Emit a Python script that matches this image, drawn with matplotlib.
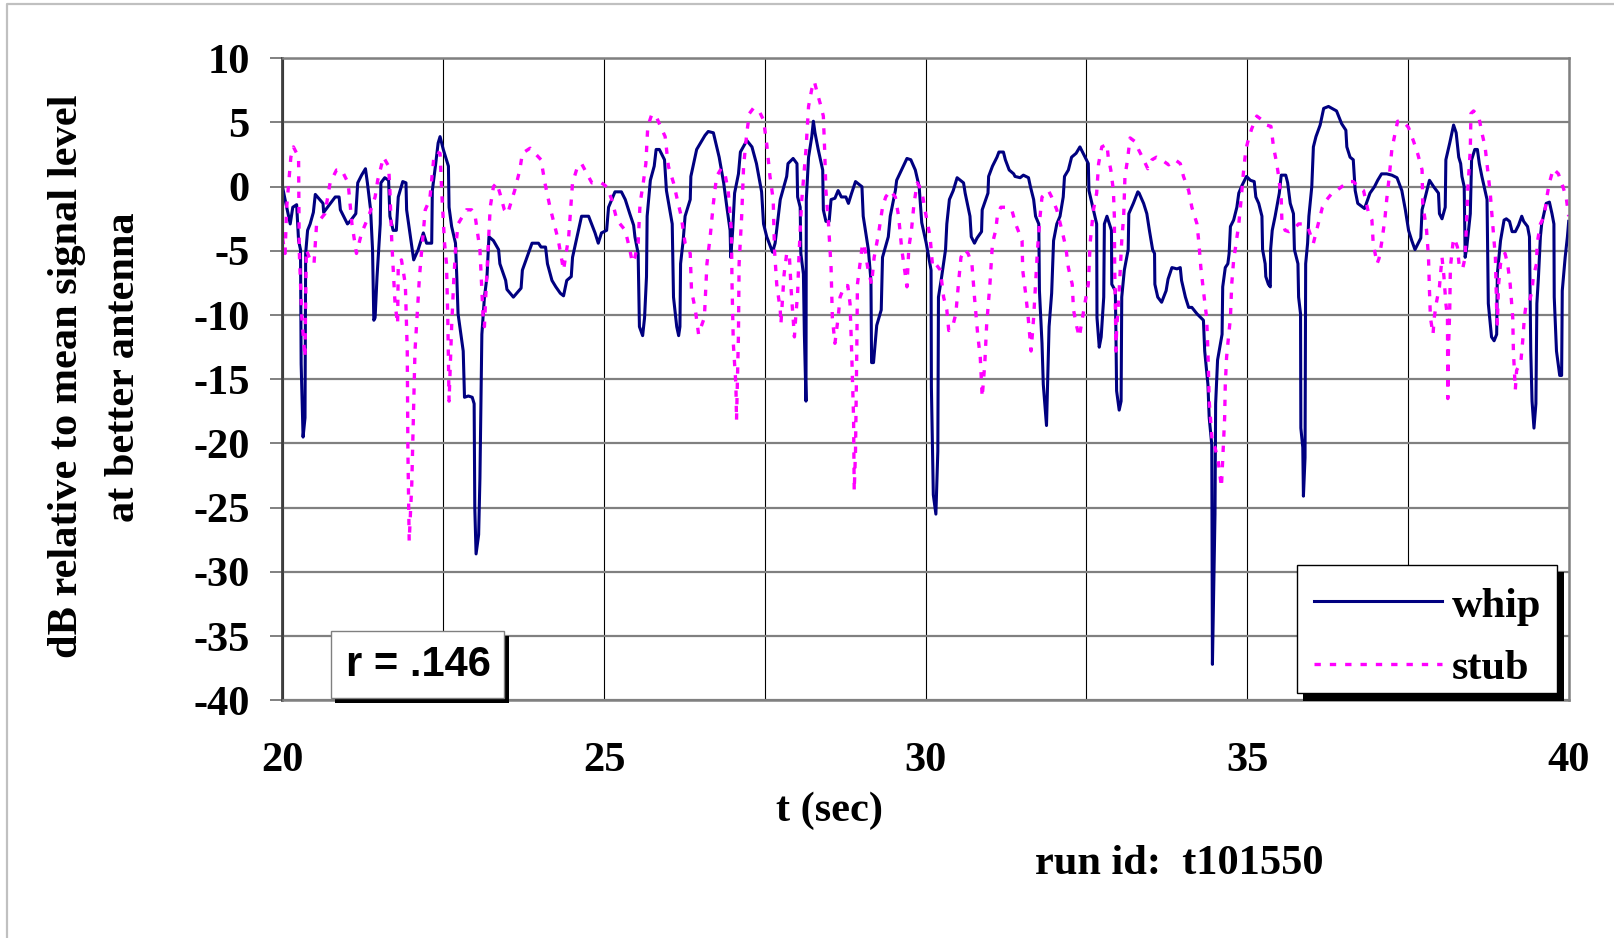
import matplotlib
matplotlib.use("Agg")
import matplotlib.pyplot as plt
from matplotlib.patches import Rectangle
from matplotlib.lines import Line2D

# values (t in s, level in dB)
whip_t = [20.00, 20.04, 20.12, 20.16, 20.22, 20.25, 20.28, 20.29, 20.32, 20.35, 20.36, 20.39, 20.43, 20.48,
          20.51, 20.63, 20.64, 20.82, 20.88, 20.90, 21.01, 21.05, 21.14, 21.17, 21.23, 21.29, 21.32, 21.37,
          21.40, 21.42, 21.44, 21.47, 21.52, 21.53, 21.59, 21.65, 21.67, 21.72, 21.77, 21.80, 21.87, 21.92,
          21.93, 22.04, 22.11, 22.19, 22.24, 22.32, 22.33, 22.38, 22.42, 22.45, 22.50, 22.58, 22.59, 22.63,
          22.69, 22.71, 22.73, 22.81, 22.83, 22.89, 22.95, 22.98, 22.99, 23.01, 23.05, 23.07, 23.10, 23.14,
          23.18, 23.21, 23.28, 23.36, 23.38, 23.47, 23.49, 23.59, 23.71, 23.73, 23.88, 23.98, 24.02, 24.09,
          24.12, 24.19, 24.25, 24.32, 24.37, 24.42, 24.49, 24.51, 24.58, 24.65, 24.76, 24.86, 24.91, 24.96,
          25.04, 25.07, 25.12, 25.17, 25.27, 25.33, 25.40, 25.46, 25.48, 25.53, 25.55, 25.60, 25.63, 25.66,
          25.67, 25.72, 25.78, 25.81, 25.86, 25.94, 25.97, 26.06, 26.08, 26.13, 26.16, 26.18, 26.19, 26.23,
          26.26, 26.34, 26.35, 26.44, 26.57, 26.62, 26.70, 26.79, 26.86, 26.91, 26.96, 26.97, 27.00, 27.03,
          27.09, 27.12, 27.22, 27.30, 27.37, 27.45, 27.48, 27.53, 27.62, 27.66, 27.74, 27.84, 27.86, 27.94,
          28.00, 28.01, 28.05, 28.06, 28.10, 28.115, 28.14, 28.145, 28.18, 28.23, 28.255, 28.28, 28.33, 28.40,
          28.41, 28.45, 28.50, 28.53, 28.59, 28.64, 28.69, 28.76, 28.80, 28.85, 28.91, 29.01, 29.03, 29.11,
          29.15, 29.16, 29.19, 29.24, 29.31, 29.33, 29.42, 29.45, 29.53, 29.55, 29.71, 29.77, 29.84, 29.90,
          29.94, 30.01, 30.085, 30.09, 30.12, 30.16, 30.19, 30.20, 30.25, 30.31, 30.33, 30.37, 30.43, 30.49,
          30.54, 30.59, 30.615, 30.69, 30.71, 30.76, 30.80, 30.87, 30.88, 30.97, 30.98, 31.04, 31.11, 31.14,
          31.21, 31.24, 31.30, 31.37, 31.39, 31.47, 31.52, 31.60, 31.63, 31.68, 31.71, 31.76, 31.77, 31.81,
          31.83, 31.88, 31.90, 31.92, 31.96, 31.99, 32.04, 32.09, 32.14, 32.16, 32.22, 32.27, 32.34, 32.40,
          32.45, 32.53, 32.54, 32.61, 32.66, 32.665, 32.70, 32.73, 32.77, 32.78, 32.82, 32.89, 32.895, 32.95,
          32.96, 32.97, 33.01, 33.04, 33.05, 33.09, 33.15, 33.16, 33.23, 33.30, 33.32, 33.39, 33.44, 33.48,
          33.53, 33.56, 33.565, 33.61, 33.67, 33.74, 33.77, 33.83, 33.91, 33.96, 33.98, 34.04, 34.09, 34.14,
          34.22, 34.32, 34.34, 34.39, 34.41, 34.45, 34.46, 34.50, 34.51, 34.54, 34.61, 34.62, 34.66, 34.70,
          34.72, 34.74, 34.79, 34.84, 34.87, 34.92, 34.99, 35.05, 35.11, 35.135, 35.18, 35.23, 35.24, 35.28,
          35.29, 35.33, 35.36, 35.365, 35.39, 35.435, 35.46, 35.50, 35.53, 35.60, 35.63, 35.67, 35.72, 35.735,
          35.79, 35.80, 35.83, 35.835, 35.865, 35.875, 35.90, 35.91, 35.94, 35.96, 36.005, 36.03, 36.07, 36.135,
          36.19, 36.265, 36.32, 36.39, 36.47, 36.535, 36.55, 36.60, 36.65, 36.68, 36.72, 36.825, 36.91, 36.98,
          37.03, 37.09, 37.17, 37.25, 37.33, 37.405, 37.46, 37.51, 37.56, 37.61, 37.70, 37.72, 37.77, 37.835,
          37.90, 37.975, 37.99, 38.03, 38.08, 38.09, 38.15, 38.21, 38.25, 38.29, 38.32, 38.34, 38.375, 38.39,
          38.415, 38.47, 38.49, 38.54, 38.58, 38.61, 38.65, 38.73, 38.75, 38.80, 38.84, 38.88, 38.89, 38.94,
          38.995, 39.03, 39.08, 39.12, 39.17, 39.22, 39.27, 39.30, 39.36, 39.39, 39.41, 39.43, 39.46, 39.49,
          39.505, 39.53, 39.56, 39.58, 39.65, 39.70, 39.74, 39.77, 39.775, 39.81, 39.86, 39.89, 39.90, 39.945,
          39.98, 40.00]
whip_db = [0.0, -1.0, -2.9, -1.6, -1.4, -4.2, -4.9, -13.8, -19.5, -18.0, -5.2, -3.4, -2.9, -2.0,
           -0.6, -1.3, -2.0, -0.8, -0.8, -1.8, -2.9, -2.7, -2.1, 0.3, 0.9, 1.4, 0.3, -1.8,
           -4.9, -10.4, -10.2, -7.0, -2.9, 0.3, 0.7, 0.5, -2.3, -3.4, -3.4, -0.8, 0.4, 0.3,
           -1.8, -5.7, -4.9, -3.6, -4.4, -4.4, -0.3, 1.7, 3.4, 3.9, 2.9, 1.6, -1.6, -3.1,
           -4.4, -7.0, -9.9, -12.8, -16.4, -16.3, -16.4, -16.9, -25.0, -28.6, -27.1, -22.7, -11.5, -8.6,
           -7.0, -3.9, -4.2, -4.9, -6.0, -7.3, -8.0, -8.6, -7.9, -6.5, -4.4, -4.4, -4.7, -4.7,
           -6.0, -7.3, -7.8, -8.3, -8.5, -7.3, -7.0, -5.5, -3.9, -2.3, -2.3, -3.6, -4.4, -3.6,
           -3.4, -1.6, -1.0, -0.4, -0.4, -1.0, -2.1, -3.0, -3.9, -5.2, -10.9, -11.6, -10.2, -7.0,
           -2.3, 0.5, 1.6, 2.9, 2.9, 2.1, -0.3, -2.9, -8.6, -10.9, -11.6, -10.9, -6.0, -4.2,
           -2.3, -1.0, 0.8, 2.9, 4.0, 4.3, 4.2, 2.3, 0.3, -1.6, -3.4, -5.5, -3.4, -0.5,
           1.0, 2.7, 3.6, 3.1, 1.8, -0.4, -2.9, -3.9, -5.1, -4.4, -1.0, 0.8, 1.8, 2.2,
           1.8, -0.8, -1.6, -5.2, -6.8, -11.5, -16.7, -1.0, 2.3, 3.9, 5.1, 4.2, 2.9, 1.3,
           -1.8, -2.7, -2.7, -1.0, -0.9, -0.3, -0.8, -0.8, -1.3, -0.5, 0.4, 0.0, -2.3, -4.9,
           -7.3, -13.7, -13.7, -10.8, -9.6, -5.5, -3.9, -2.3, -0.3, 0.5, 2.2, 2.1, 1.3, 0.0,
           -2.8, -4.4, -6.5, -15.6, -24.0, -25.5, -20.6, -8.6, -7.0, -4.9, -2.9, -1.0, -0.3, 0.7,
           0.5, 0.3, -0.5, -2.3, -3.9, -4.4, -4.0, -3.5, -1.8, -0.5, 0.8, 1.6, 2.3, 2.7,
           2.7, 2.1, 1.3, 1.0, 0.8, 0.7, 0.9, 0.7, 0.0, -1.0, -2.3, -2.9, -8.1, -12.2,
           -15.4, -18.6, -14.6, -10.9, -8.3, -4.2, -2.9, -2.3, -0.8, 0.8, 1.3, 2.3, 2.6, 3.1,
           2.6, 1.8, -0.3, -1.8, -2.9, -10.2, -12.5, -11.7, -8.6, -2.9, -2.3, -3.4, -7.6, -8.1,
           -11.5, -15.9, -17.4, -16.7, -8.6, -6.5, -4.9, -2.1, -1.3, -0.4, -0.5, -1.3, -2.1, -3.4,
           -4.9, -5.2, -7.6, -8.6, -9.0, -8.1, -7.2, -6.3, -6.4, -6.3, -7.3, -8.6, -9.4, -9.4,
           -9.9, -10.4, -12.8, -15.4, -18.0, -20.1, -37.2, -25.5, -16.9, -13.5, -11.5, -7.8, -6.3, -6.0,
           -5.2, -3.1, -2.6, -1.6, -0.5, 0.1, 0.8, 0.5, 0.4, -0.8, -1.3, -2.3, -4.9, -6.0,
           -7.0, -7.6, -7.8, -4.9, -3.4, -2.3, -1.6, -0.5, 0.9, 0.9, 0.3, -1.3, -2.1, -4.9,
           -6.0, -8.6, -9.9, -18.8, -20.3, -24.1, -21.1, -6.0, -4.4, -2.3, 0.0, 3.1, 3.9, 4.8,
           6.1, 6.25, 6.1, 5.9, 4.9, 4.4, 3.1, 2.3, 2.1, -0.3, -1.3, -1.7, -0.5, 0.0,
           0.5, 1.0, 1.0, 0.9, 0.7, -0.3, -1.8, -3.4, -4.2, -4.9, -4.0, -1.8, -0.8, 0.5,
           0.0, -0.5, -2.1, -2.5, -1.6, 2.1, 3.4, 4.8, 4.2, 2.3, 1.8, 0.8, 0.0, -5.5,
           -4.7, -2.1, 2.1, 2.9, 2.9, 1.8, 0.8, -1.0, -9.1, -11.7, -12.0, -11.5, -6.8, -4.2,
           -2.6, -2.5, -2.7, -3.5, -3.5, -3.0, -2.3, -2.7, -3.1, -3.9, -12.8, -16.7, -18.8, -16.9,
           -9.1, -7.0, -3.9, -2.9, -1.3, -1.2, -2.1, -2.9, -8.6, -12.8, -14.7, -14.7, -8.1, -5.5,
           -3.9, -2.7]

stub_t = [20.00, 20.04, 20.065, 20.13, 20.17, 20.25, 20.26, 20.30, 20.35, 20.37, 20.43, 20.49, 20.53, 20.66,
          20.74, 20.84, 20.92, 21.02, 21.08, 21.15, 21.23, 21.34, 21.44, 21.48, 21.57, 21.65, 21.67, 21.70,
          21.75, 21.79, 21.80, 21.85, 21.91, 21.94, 21.95, 21.97, 22.01, 22.06, 22.13, 22.16, 22.22, 22.29,
          22.35, 22.40, 22.45, 22.48, 22.52, 22.55, 22.57, 22.59, 22.63, 22.66, 22.69, 22.73, 22.86, 22.94,
          22.99, 23.07, 23.12, 23.14, 23.16, 23.19, 23.23, 23.28, 23.33, 23.38, 23.45, 23.50, 23.61, 23.69,
          23.73, 23.85, 24.02, 24.08, 24.16, 24.29, 24.37, 24.45, 24.51, 24.59, 24.65, 24.81, 24.96, 25.04,
          25.12, 25.20, 25.33, 25.40, 25.44, 25.48, 25.53, 25.56, 25.61, 25.65, 25.68, 25.74, 25.80, 25.86,
          25.95, 26.00, 26.08, 26.13, 26.20, 26.26, 26.34, 26.36, 26.42, 26.47, 26.51, 26.56, 26.60, 26.65,
          26.70, 26.75, 26.82, 26.88, 26.93, 26.98, 26.99, 27.01, 27.05, 27.06, 27.09, 27.10, 27.14, 27.17,
          27.22, 27.26, 27.32, 27.40, 27.48, 27.53, 27.58, 27.63, 27.65, 27.685, 27.74, 27.75, 27.80, 27.84,
          27.88, 27.91, 27.96, 27.98, 28.01, 28.03, 28.07, 28.14, 28.18, 28.23, 28.27, 28.31, 28.36, 28.41,
          28.43, 28.45, 28.49, 28.53, 28.55, 28.59, 28.64, 28.67, 28.74, 28.79, 28.825, 28.85, 28.88, 28.89,
          28.91, 28.93, 28.94, 28.98, 29.02, 29.05, 29.10, 29.16, 29.20, 29.27, 29.33, 29.38, 29.45, 29.53,
          29.58, 29.63, 29.71, 29.74, 29.78, 29.82, 29.87, 29.94, 29.99, 30.07, 30.11, 30.17, 30.23, 30.28,
          30.33, 30.36, 30.42, 30.47, 30.51, 30.55, 30.61, 30.66, 30.72, 30.76, 30.81, 30.85, 30.88, 30.92,
          30.95, 31.00, 31.04, 31.09, 31.12, 31.17, 31.25, 31.34, 31.40, 31.50, 31.51, 31.55, 31.59, 31.64,
          31.68, 31.71, 31.74, 31.78, 31.81, 31.87, 31.91, 31.96, 32.04, 32.12, 32.18, 32.22, 32.28, 32.30,
          32.35, 32.39, 32.43, 32.48, 32.53, 32.56, 32.61, 32.66, 32.69, 32.74, 32.82, 32.84, 32.88, 32.92,
          32.935, 32.94, 32.95, 32.96, 32.97, 33.01, 33.05, 33.08, 33.10, 33.14, 33.18, 33.26, 33.31, 33.39,
          33.455, 33.52, 33.59, 33.67, 33.78, 33.88, 33.96, 34.01, 34.09, 34.14, 34.22, 34.25, 34.28, 34.32,
          34.37, 34.39, 34.41, 34.46, 34.50, 34.55, 34.60, 34.65, 34.66, 34.68, 34.71, 34.74, 34.76, 34.79,
          34.82, 34.87, 34.91, 34.94, 34.98, 35.01, 35.07, 35.15, 35.23, 35.30, 35.37, 35.41, 35.46, 35.49,
          35.53, 35.54, 35.59, 35.65, 35.72, 35.80, 35.875, 35.94, 35.995, 36.03, 36.07, 36.135, 36.17, 36.24,
          36.32, 36.39, 36.47, 36.58, 36.65, 36.73, 36.81, 36.89, 36.94, 36.96, 36.99, 37.02, 37.05, 37.09,
          37.14, 37.17, 37.21, 37.25, 37.29, 37.34, 37.43, 37.51, 37.59, 37.65, 37.72, 37.73, 37.79, 37.82,
          37.835, 37.85, 37.89, 37.91, 37.94, 37.99, 38.03, 38.06, 38.09, 38.115, 38.12, 38.13, 38.15, 38.16,
          38.20, 38.22, 38.27, 38.30, 38.35, 38.39, 38.43, 38.47, 38.48, 38.52, 38.60, 38.65, 38.70, 38.74,
          38.78, 38.80, 38.86, 38.88, 38.89, 38.91, 38.94, 39.01, 39.05, 39.09, 39.13, 39.14, 39.17, 39.19,
          39.255, 39.29, 39.31, 39.34, 39.39, 39.43, 39.45, 39.50, 39.51, 39.56, 39.62, 39.66, 39.70, 39.76,
          39.84, 39.91, 39.96, 40.00]
stub_db = [-4.0, -5.2, -1.6, 2.3, 3.1, 2.3, -4.9, -10.2, -13.3, -4.9, -5.7, -6.0, -2.9, -2.1,
           0.3, 1.3, 1.3, 0.3, -2.9, -5.2, -3.6, -2.3, -0.8, 0.5, 2.3, 1.6, -0.3, -4.4,
           -9.1, -10.7, -6.0, -5.7, -7.6, -12.8, -20.6, -27.6, -23.2, -12.8, -7.0, -5.2, -1.8, -1.0,
           2.1, 2.7, 2.6, -0.8, -4.4, -6.0, -10.2, -16.7, -10.9, -7.6, -4.9, -2.9, -1.8, -1.8,
           -2.1, -4.9, -10.2, -10.9, -8.6, -5.5, -1.6, 0.0, 0.3, -0.5, -1.8, -2.1, -0.3, 1.3,
           2.6, 3.0, 2.1, 0.3, -1.6, -4.2, -6.5, -3.9, 0.3, 1.6, 1.8, 0.3, 0.3, 0.0,
           -1.0, -2.6, -3.4, -4.9, -5.9, -5.5, -4.4, -1.3, 0.3, 1.8, 4.7, 5.6, 5.6, 4.9,
           3.9, 1.6, 0.3, -0.8, -2.3, -4.4, -5.2, -8.1, -9.6, -11.5, -10.9, -10.2, -6.0, -3.9,
           -1.3, 0.8, 1.4, 1.0, -0.3, -3.4, -7.6, -12.2, -15.4, -18.2, -11.5, -6.0, -2.3, 1.6,
           4.2, 5.7, 6.1, 6.0, 5.2, 3.3, 0.8, -1.0, -4.9, -7.6, -9.6, -10.7, -6.8, -5.2,
           -5.2, -8.1, -11.7, -10.2, -8.3, -5.5, -1.3, 2.9, 6.25, 7.6, 8.2, 7.4, 6.5, 5.5,
           2.9, -0.3, -2.9, -6.3, -10.2, -12.2, -10.2, -8.6, -7.7, -7.7, -9.1, -12.8, -18.0, -23.7,
           -20.6, -12.8, -7.6, -6.0, -4.4, -4.7, -6.3, -7.6, -5.5, -3.6, -1.6, -0.8, -0.3, -0.8,
           -2.3, -4.9, -7.8, -4.7, -3.4, -1.3, 0.3, -0.3, -1.8, -3.9, -6.3, -6.1, -6.5, -8.6,
           -9.6, -11.2, -10.9, -9.9, -7.6, -5.5, -4.9, -5.2, -6.0, -8.6, -11.5, -13.3, -16.4, -13.8,
           -10.7, -7.6, -4.4, -3.4, -2.1, -1.6, -1.6, -1.8, -2.9, -4.2, -6.5, -8.1, -9.9, -12.8,
           -10.2, -7.6, -4.9, -2.3, -0.8, -0.5, -0.3, -0.8, -1.8, -3.4, -4.7, -6.3, -7.6, -9.6,
           -10.9, -11.7, -10.5, -9.0, -7.6, -4.3, -1.8, -0.5, 1.8, 3.1, 3.3, 2.3, 1.3, -0.3,
           -2.3, -6.3, -9.1, -12.8, -11.2, -8.1, -4.2, -2.3, 0.8, 2.1, 3.8, 3.5, 2.9, 2.1,
           1.4, 2.1, 2.3, 2.1, 1.7, 2.1, 1.8, 0.8, -0.3, -1.6, -2.9, -4.4, -6.3, -8.1,
           -10.2, -12.8, -16.7, -20.1, -20.3, -21.4, -23.4, -18.0, -15.4, -13.3, -11.7, -10.2, -7.6, -5.7,
           -4.7, -2.9, -0.8, 1.0, 2.9, 3.5, 4.5, 5.5, 5.2, 4.8, 4.7, 3.1, 1.8, 0.8,
           -1.0, -2.6, -3.4, -3.5, -3.3, -2.9, -2.9, -3.1, -3.9, -4.4, -3.6, -2.3, -1.6, -1.0,
           -0.5, -0.3, 0.0, 0.4, 0.4, 0.0, -0.3, -2.1, -2.6, -4.4, -5.2, -6.0, -5.6, -4.4,
           -2.6, -1.0, 0.8, 2.9, 3.9, 5.1, 5.1, 4.6, 3.5, 2.6, 1.3, -1.3, -3.4, -5.5,
           -8.1, -10.2, -11.5, -10.2, -9.1, -7.8, -5.5, -7.0, -9.1, -10.2, -16.5, -12.8, -9.6, -6.3,
           -4.4, -4.0, -4.7, -6.3, -6.4, -5.5, -0.3, 2.9, 5.7, 5.9, 5.5, 4.2, 3.1, 1.3,
           -0.5, -1.8, -5.5, -9.6, -10.7, -7.6, -6.0, -5.2, -6.0, -7.6, -10.2, -12.8, -15.8, -14.3,
           -13.7, -11.7, -10.2, -9.1, -8.9, -8.1, -7.0, -6.0, -4.4, -2.9, -2.3, -0.8, 0.3, 1.4,
           1.0, 0.0, -0.8, -2.3]

x_major = [20, 25, 30, 35, 40]
x_minor = [22.5, 27.5, 32.5, 37.5]
y_ticks = [10, 5, 0, -5, -10, -15, -20, -25, -30, -35, -40]
series_names = ["whip", "stub"]
r_text = "r = .146"
run_text = "run id:  t101550"

W, H = 1615, 938
SERIF = "Liberation Serif"
FS = 30.5
WHIP_C = "#000080"
STUB_C = "#FF00FF"
STUB_LS = (0, (1.9, 2.7))

plt.rcParams["axes.unicode_minus"] = False


def fx(px):
    return px / W


def fy(py):
    return 1 - py / H


fig = plt.figure(figsize=(W / 100, H / 100), dpi=100)

# light grey frame of the chart area: only top and left edges fall inside the picture
fig.add_artist(Line2D([fx(7), fx(7), fx(W)], [fy(H), fy(4), fy(4)], transform=fig.transFigure,
                      color="#c0c0c0", lw=1.6))

ax = fig.add_axes([fx(282.5), fy(700.3), fx(1568.7) - fx(282.5), fy(58.3) - fy(700.3)])
ax.plot(whip_t, whip_db, color=WHIP_C, lw=2.2, solid_joinstyle="round")
ax.plot(stub_t, stub_db, color=STUB_C, lw=2.4, linestyle=STUB_LS)

ax.set_xlim(20, 40)
ax.set_ylim(-40, 10)
ax.set_xticks(x_major)
ax.set_xticks(x_minor, minor=True)
ax.set_yticks(y_ticks)
ax.set_axisbelow(True)
ax.grid(axis="y", color="#808080", lw=1.6)
ax.grid(axis="x", which="both", color="black", lw=0.8)

for side in ["top", "right", "bottom"]:
    ax.spines[side].set_color("#808080")
    ax.spines[side].set_linewidth(1.8)
ax.spines["left"].set_color("#404040")
ax.spines["left"].set_linewidth(2.0)

ax.tick_params(axis="y", direction="out", length=8.6, width=1.4, color="#808080", pad=15)
ax.tick_params(axis="x", which="both", length=0, pad=30)
for lab in ax.get_xticklabels() + ax.get_yticklabels():
    lab.set_fontfamily(SERIF)
    lab.set_fontweight("bold")
    lab.set_fontsize(FS)

# axis titles
fig.text(fx(67), fy(376), "dB relative to mean signal level", rotation=90, ha="center", va="center",
         family=SERIF, weight="bold", fontsize=FS)
fig.text(fx(124), fy(367), "at better antenna", rotation=90, ha="center", va="center",
         family=SERIF, weight="bold", fontsize=FS)
fig.text(fx(830), fy(811), "t (sec)", ha="center", va="center", family=SERIF, weight="bold", fontsize=FS)
fig.text(fx(1035), fy(864), run_text, ha="left", va="center", family=SERIF, weight="bold", fontsize=FS)

# correlation box with black drop shadow
fig.add_artist(Rectangle((fx(335.5), fy(703)), fx(509) - fx(335.5), fy(636) - fy(703),
                         transform=fig.transFigure, fc="black", ec="none"))
fig.add_artist(Rectangle((fx(330.7), fy(698.3)), fx(504) - fx(330.7), fy(630.7) - fy(698.3),
                         transform=fig.transFigure, fc="white", ec="#808080", lw=1))
fig.text(fx(418), fy(665), r_text, ha="center", va="center", family="Liberation Sans",
         weight="bold", fontsize=30)

# legend box with black drop shadow
fig.add_artist(Rectangle((fx(1303), fy(700.5)), fx(1564) - fx(1303), fy(572) - fy(700.5),
                         transform=fig.transFigure, fc="black", ec="none"))
fig.add_artist(Rectangle((fx(1297.3), fy(693.3)), fx(1556.7) - fx(1297.3), fy(565) - fy(693.3),
                         transform=fig.transFigure, fc="white", ec="black", lw=1))
fig.add_artist(Line2D([fx(1314), fx(1442)], [fy(600.7), fy(600.7)], transform=fig.transFigure,
                      color=WHIP_C, lw=2.2))
fig.add_artist(Line2D([fx(1314), fx(1442)], [fy(664), fy(664)], transform=fig.transFigure,
                      color=STUB_C, lw=2.4, linestyle=STUB_LS))
fig.text(fx(1452), fy(616.7), series_names[0], ha="left", va="baseline", family=SERIF,
         weight="bold", fontsize=FS)
fig.text(fx(1452), fy(679), series_names[1], ha="left", va="baseline", family=SERIF,
         weight="bold", fontsize=FS)

fig.savefig("out.png", dpi=100)
